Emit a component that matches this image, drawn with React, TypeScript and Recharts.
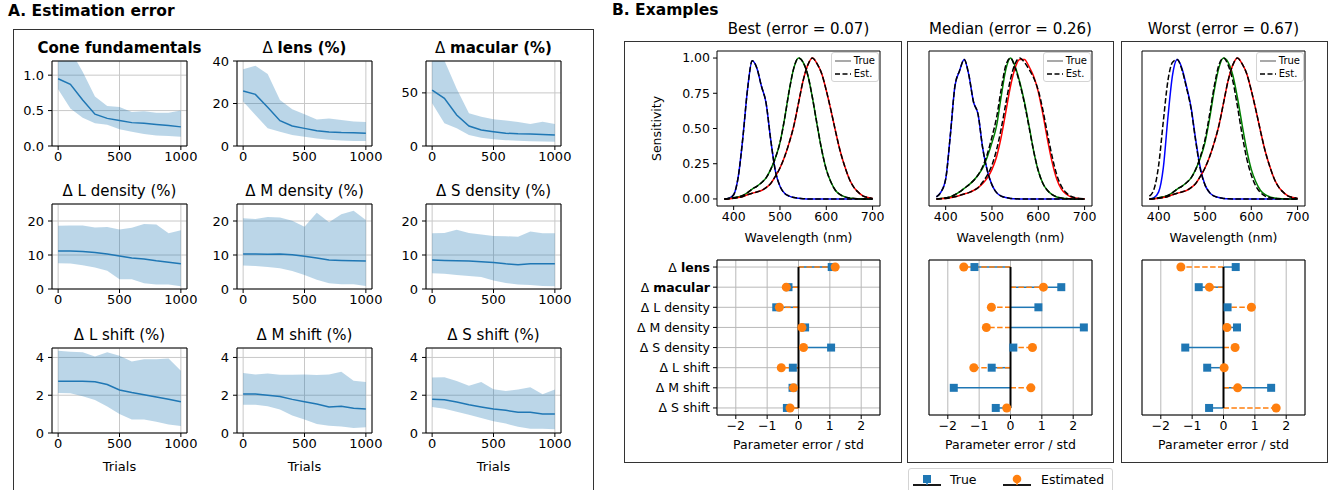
import React from 'react';
import {
  ComposedChart, LineChart, ScatterChart, Line, Area, Scatter,
  XAxis, YAxis, CartesianGrid, ReferenceLine, ReferenceArea, Legend,
} from 'recharts';

const FONT = '"DejaVu Sans", sans-serif';
const C0 = '#1f77b4';
const C1 = '#ff7f0e';

// ---------- Panel A: estimation error vs. number of trials ----------
const trials = [0, 100, 200, 300, 400, 500, 600, 700, 800, 900, 1000];

const coneMean = [0.95, 0.87, 0.65, 0.45, 0.39, 0.36, 0.33, 0.32, 0.305, 0.29, 0.27];
const coneLo = [0.80, 0.53, 0.40, 0.32, 0.30, 0.235, 0.20, 0.17, 0.15, 0.14, 0.13];
const coneHi = [1.45, 1.35, 1.05, 0.70, 0.565, 0.55, 0.48, 0.49, 0.47, 0.47, 0.50];

const lensMean = [25.9, 24.3, 18.2, 11.9, 9.4, 8.3, 7.2, 6.6, 6.3, 6.2, 6.0];
const lensLo = [20.9, 14.6, 8.3, 6.7, 5.2, 4.4, 3.5, 3.0, 2.6, 2.4, 2.3];
const lensHi = [36.1, 37.8, 33.9, 21.6, 17.3, 14.9, 12.5, 13.0, 12.2, 11.5, 11.3];

const macMean = [52.7, 44.9, 29.2, 18.8, 15.0, 13.5, 12.0, 11.5, 11.3, 10.8, 10.4];
const macLo = [40.2, 21.3, 16.6, 10.4, 7.8, 6.3, 5.5, 5.0, 4.5, 4.2, 4.0];
const macHi = [95, 80.5, 54, 30.8, 27.6, 25.1, 24, 22.5, 20.7, 22.9, 20.7];

const lDensMean = [11.2, 11.2, 11.0, 10.7, 10.3, 9.7, 9.1, 8.8, 8.3, 7.9, 7.4];
const lDensLo = [7.6, 7.5, 7.0, 6.3, 5.4, 2.9, 2.9, 1.7, 1.3, 1.3, 0.8];
const lDensHi = [18.6, 18.7, 18.7, 18.1, 18.2, 17.5, 18.0, 19.1, 19.0, 16.4, 17.3];

const mDensMean = [10.3, 10.3, 10.2, 10.3, 10.1, 9.6, 9.1, 8.5, 8.4, 8.3, 8.2];
const mDensLo = [6.9, 6.8, 6.5, 6.1, 5.3, 4.1, 2.7, 1.7, 1.4, 1.4, 0.9];
const mDensHi = [20.8, 20.6, 21.2, 21.0, 20.1, 18.3, 22.4, 19.6, 22.0, 23.0, 20.3];

const sDensMean = [8.5, 8.4, 8.3, 8.2, 8.0, 7.8, 7.4, 7.1, 7.4, 7.4, 7.4];
const sDensLo = [4.6, 4.5, 4.1, 3.8, 3.5, 2.5, 1.8, 1.3, 1.2, 0.9, 0.8];
const sDensHi = [16.4, 16.5, 17.4, 16.5, 16.0, 15.6, 15.5, 15.4, 16.9, 16.4, 16.4];

const lShiftMean = [2.74, 2.74, 2.74, 2.71, 2.57, 2.28, 2.14, 2.02, 1.91, 1.79, 1.66];
const lShiftLo = [2.12, 2.10, 1.95, 1.75, 1.40, 1.00, 0.72, 0.72, 0.60, 0.45, 0.37];
const lShiftHi = [4.35, 4.30, 4.27, 4.05, 4.27, 4.09, 3.79, 3.91, 3.91, 3.95, 3.29];

const mShiftMean = [2.07, 2.06, 2.00, 1.93, 1.78, 1.66, 1.53, 1.38, 1.42, 1.31, 1.27];
const mShiftLo = [1.50, 1.50, 1.42, 1.25, 0.92, 0.72, 0.48, 0.38, 0.35, 0.26, 0.30];
const mShiftHi = [3.17, 3.10, 3.15, 3.08, 3.08, 3.10, 3.07, 3.10, 3.24, 2.76, 2.70];

const sShiftMean = [1.79, 1.76, 1.64, 1.50, 1.38, 1.27, 1.20, 1.10, 1.10, 1.01, 1.00];
const sShiftLo = [1.37, 1.28, 1.12, 0.97, 0.80, 0.62, 0.50, 0.33, 0.23, 0.22, 0.20];
const sShiftHi = [2.94, 2.95, 2.75, 2.50, 2.70, 2.32, 2.23, 2.30, 2.42, 2.05, 2.30];

// ---------- Panel B: cone fundamentals (380..700 nm) ----------
const wavelengths = [380, 390, 400, 410, 420, 430, 440, 450, 460, 470, 480, 490, 500, 510, 520, 530,
  540, 550, 560, 570, 580, 590, 600, 610, 620, 630, 640, 650, 660, 670, 680, 690, 700];

const bestS = [0, 0.005, 0.03, 0.16, 0.44, 0.78, 0.98, 0.93, 0.80, 0.68, 0.42, 0.20, 0.09, 0.04, 0.02, 0.01,
  0.005, 0.002, 0, 0, 0, 0, 0, 0, 0, 0, 0, 0, 0, 0, 0, 0, 0];
const bestM = [0, 0.003, 0.008, 0.015, 0.025, 0.045, 0.07, 0.09, 0.115, 0.15, 0.21, 0.29, 0.40, 0.57, 0.77, 0.93,
  1.0, 0.97, 0.88, 0.72, 0.53, 0.35, 0.21, 0.12, 0.06, 0.03, 0.015, 0.007, 0.003, 0.001, 0, 0, 0];
const bestL = [0, 0.002, 0.005, 0.01, 0.018, 0.03, 0.04, 0.05, 0.06, 0.08, 0.11, 0.16, 0.22, 0.30, 0.40, 0.52,
  0.68, 0.84, 0.95, 1.0, 0.96, 0.89, 0.77, 0.63, 0.48, 0.34, 0.23, 0.14, 0.08, 0.045, 0.02, 0.01, 0.004];
// best estimate is indistinguishable from the truth
const bestSEst = bestS;
const bestMEst = bestM;
const bestLEst = bestL;

const medS = [0.015, 0.05, 0.14, 0.45, 0.80, 0.91, 0.99, 0.88, 0.69, 0.60, 0.36, 0.20, 0.10, 0.045, 0.02, 0.01,
  0.004, 0.001, 0, 0, 0, 0, 0, 0, 0, 0, 0, 0, 0, 0, 0, 0, 0];
const medM = [0, 0.003, 0.008, 0.015, 0.03, 0.05, 0.075, 0.10, 0.13, 0.17, 0.22, 0.30, 0.40, 0.52, 0.73, 0.92,
  1.0, 0.94, 0.83, 0.69, 0.52, 0.34, 0.20, 0.11, 0.06, 0.03, 0.014, 0.006, 0.003, 0.001, 0, 0, 0];
const medL = [0, 0.002, 0.004, 0.008, 0.015, 0.025, 0.035, 0.045, 0.06, 0.08, 0.11, 0.15, 0.21, 0.30, 0.44, 0.62,
  0.80, 0.93, 0.99, 0.99, 0.94, 0.87, 0.76, 0.60, 0.42, 0.26, 0.14, 0.07, 0.035, 0.015, 0.006, 0.002, 0.001];
const medSEst = medS;
const medMEst = [0, 0.003, 0.008, 0.015, 0.03, 0.05, 0.075, 0.10, 0.13, 0.17, 0.23, 0.32, 0.44, 0.58, 0.78, 0.95,
  1.0, 0.93, 0.82, 0.68, 0.51, 0.34, 0.20, 0.11, 0.06, 0.03, 0.014, 0.006, 0.003, 0.001, 0, 0, 0];
const medLEst = [0, 0.002, 0.004, 0.008, 0.015, 0.025, 0.035, 0.045, 0.06, 0.08, 0.12, 0.17, 0.24, 0.35, 0.50, 0.68,
  0.85, 0.96, 1.0, 0.97, 0.92, 0.86, 0.77, 0.63, 0.46, 0.30, 0.17, 0.09, 0.045, 0.02, 0.008, 0.003, 0.001];

const worstS = [0, 0.01, 0.05, 0.22, 0.58, 0.88, 0.99, 0.93, 0.80, 0.65, 0.42, 0.22, 0.10, 0.045, 0.02, 0.01,
  0.004, 0.001, 0, 0, 0, 0, 0, 0, 0, 0, 0, 0, 0, 0, 0, 0, 0];
const worstM = [0, 0.003, 0.008, 0.015, 0.025, 0.045, 0.07, 0.09, 0.115, 0.15, 0.21, 0.29, 0.40, 0.57, 0.77, 0.93,
  1.0, 0.97, 0.88, 0.72, 0.53, 0.35, 0.21, 0.12, 0.06, 0.03, 0.015, 0.007, 0.003, 0.001, 0, 0, 0];
const worstL = bestL;
const worstSEst = [0.02, 0.07, 0.24, 0.55, 0.84, 0.97, 0.99, 0.92, 0.79, 0.64, 0.41, 0.21, 0.10, 0.045, 0.02, 0.01,
  0.004, 0.001, 0, 0, 0, 0, 0, 0, 0, 0, 0, 0, 0, 0, 0, 0, 0];
const worstMEst = [0, 0.003, 0.008, 0.015, 0.025, 0.045, 0.07, 0.09, 0.115, 0.15, 0.21, 0.30, 0.42, 0.60, 0.80, 0.95,
  1.0, 0.95, 0.84, 0.66, 0.46, 0.29, 0.17, 0.09, 0.045, 0.02, 0.01, 0.005, 0.002, 0.001, 0, 0, 0];
const worstLEst = bestL;

// ---------- Panel B: parameter errors (in std units) ----------
const params = ['lens', 'macular', 'L density', 'M density', 'S density', 'L shift', 'M shift', 'S shift'];
const boldParams = ['lens', 'macular'];

const bestTrue = [1.06, -0.32, -0.71, 0.21, 1.04, -0.18, -0.19, -0.37];
const bestEst = [1.17, -0.39, -0.61, 0.11, 0.16, -0.55, -0.16, -0.27];
const medTrue = [-1.15, 1.62, 0.89, 2.34, 0.09, -0.60, -1.81, -0.47];
const medEstV = [-1.49, 1.05, -0.61, -0.77, 0.70, -1.17, 0.65, -0.12];
const worstTrue = [0.39, -0.79, 0.13, 0.43, -1.22, -0.52, 1.52, -0.46];
const worstEstV = [-1.36, -0.45, 0.89, 0.11, 0.37, 0.02, 0.45, 1.68];

const examples = [
  { title: 'Best (error = 0.07)', s: bestS, m: bestM, l: bestL, sE: bestSEst, mE: bestMEst, lE: bestLEst, tv: bestTrue, ev: bestEst },
  { title: 'Median (error = 0.26)', s: medS, m: medM, l: medL, sE: medSEst, mE: medMEst, lE: medLEst, tv: medTrue, ev: medEstV },
  { title: 'Worst (error = 0.67)', s: worstS, m: worstM, l: worstL, sE: worstSEst, mE: worstMEst, lE: worstLEst, tv: worstTrue, ev: worstEstV },
];

const errorSpecs = [
  { title: 'Cone fundamentals', delta: false, bold: true, mean: coneMean, lo: coneLo, hi: coneHi, yMax: 1.2, ticks: [0, 0.5, 1.0], dec: 1 },
  { title: 'lens (%)', delta: true, bold: true, mean: lensMean, lo: lensLo, hi: lensHi, yMax: 40, ticks: [0, 20, 40], dec: 0 },
  { title: 'macular (%)', delta: true, bold: true, mean: macMean, lo: macLo, hi: macHi, yMax: 80, ticks: [0, 50], dec: 0 },
  { title: 'L density (%)', delta: true, bold: false, mean: lDensMean, lo: lDensLo, hi: lDensHi, yMax: 25, ticks: [0, 10, 20], dec: 0 },
  { title: 'M density (%)', delta: true, bold: false, mean: mDensMean, lo: mDensLo, hi: mDensHi, yMax: 25, ticks: [0, 10, 20], dec: 0 },
  { title: 'S density (%)', delta: true, bold: false, mean: sDensMean, lo: sDensLo, hi: sDensHi, yMax: 25, ticks: [0, 10, 20], dec: 0 },
  { title: 'L shift (%)', delta: true, bold: false, mean: lShiftMean, lo: lShiftLo, hi: lShiftHi, yMax: 4.5, ticks: [0, 2, 4], dec: 0 },
  { title: 'M shift (%)', delta: true, bold: false, mean: mShiftMean, lo: mShiftLo, hi: mShiftHi, yMax: 4.5, ticks: [0, 2, 4], dec: 0 },
  { title: 'S shift (%)', delta: true, bold: false, mean: sShiftMean, lo: sShiftLo, hi: sShiftHi, yMax: 4.5, ticks: [0, 2, 4], dec: 0 },
];

// layout (page pixels of each plot area)
const A_COLS = [52, 237, 426];
const A_ROWS = [61, 204, 348];
const A_W = 135;
const A_H = 85;
const B_COLS = [717, 929, 1142];
const B_W = 163;
const B_H = 155;
const SENS_TOP = 51;
const DOT_TOP = 260;

const tickA = { fontSize: 13, fill: '#000', fontFamily: FONT };
const tickB = { fontSize: 12.5, fill: '#000', fontFamily: FONT };
const minus = (v: number) => (v < 0 ? `\u2212${-v}` : `${v}`);

const ErrorPanel = ({ spec, x0, y0, last }: any) => {
  const L = 40, R = 22, T = 10, B = last ? 40 : 22;
  const data = trials.map((t, i) => ({ t, mean: spec.mean[i], band: [spec.lo[i], spec.hi[i]] }));
  return (
    <>
      <div style={{ position: 'absolute', left: x0 - 20, width: A_W + 40, top: y0 - 22, textAlign: 'center', fontSize: 15, lineHeight: '18px', whiteSpace: 'nowrap' }}>
        {spec.delta && <span>Δ </span>}
        <span style={{ fontWeight: spec.bold ? 'bold' : 'normal' }}>{spec.title}</span>
      </div>
      <div style={{ position: 'absolute', left: x0 - L, top: y0 - T }}>
        <ComposedChart width={A_W + L + R} height={A_H + T + B} data={data} margin={{ top: T, right: R, bottom: 0, left: 0 }}>
          <CartesianGrid stroke="#c8c8c8" />
          <XAxis dataKey="t" type="number" domain={[-50, 1050]} allowDataOverflow ticks={[0, 500, 1000]} interval={0}
            axisLine={false} stroke="#000" tickSize={4} tickMargin={2} tick={tickA} height={B}
            label={last ? { value: 'Trials', position: 'insideBottom', offset: 2, fontSize: 13, fill: '#000', fontFamily: FONT } : undefined} />
          <YAxis type="number" domain={[0, spec.yMax]} allowDataOverflow ticks={spec.ticks} width={L} interval={0}
            axisLine={false} stroke="#000" tickSize={4} tickMargin={4} tick={tickA}
            tickFormatter={(v: number) => v.toFixed(spec.dec)} />
          <Area type="linear" dataKey="band" stroke="none" fill={C0} fillOpacity={0.3} isAnimationActive={false} activeDot={false} />
          <Line type="linear" dataKey="mean" stroke={C0} strokeWidth={1.5} dot={false} activeDot={false} isAnimationActive={false} />
          <ReferenceArea x1={-50} x2={1050} y1={0} y2={spec.yMax} fill="none" stroke="#000" strokeWidth={1} />
        </ComposedChart>
      </div>
    </>
  );
};

const SensLegend = () => (
  <div style={{ border: '1px solid #d4d4d4', borderRadius: 3, background: 'rgba(255,255,255,0.85)', padding: '1px 3px', fontFamily: FONT, fontSize: 10, lineHeight: '13px', color: '#000' }}>
    <div style={{ display: 'flex', alignItems: 'center' }}>
      <svg width={16} height={6}><line x1={0} y1={3} x2={16} y2={3} stroke="#707070" strokeWidth={1.2} /></svg>
      <span style={{ marginLeft: 3 }}>True</span>
    </div>
    <div style={{ display: 'flex', alignItems: 'center' }}>
      <svg width={16} height={6}><line x1={0} y1={3} x2={16} y2={3} stroke="#000" strokeWidth={1.5} strokeDasharray="5 2.5" /></svg>
      <span style={{ marginLeft: 3 }}>Est.</span>
    </div>
  </div>
);

const SensPanel = ({ ex, x0, first }: any) => {
  const L = first ? 85 : 12, R = 14, T = 8, B = 40;
  const data = wavelengths.map((w, i) => ({ w, sT: ex.s[i], mT: ex.m[i], lT: ex.l[i], sE: ex.sE[i], mE: ex.mE[i], lE: ex.lE[i] }));
  const dash = '5.5 2.4';
  return (
    <div style={{ position: 'absolute', left: x0 - L, top: SENS_TOP - T }}>
      <LineChart width={B_W + L + R} height={B_H + T + B} data={data} margin={{ top: T, right: R, bottom: 0, left: 0 }}>
        <XAxis dataKey="w" type="number" domain={[364, 716]} allowDataOverflow ticks={[400, 500, 600, 700]} interval={0}
          axisLine={false} stroke="#000" tickSize={4} tickMargin={2} tick={tickB} height={B}
          label={{ value: 'Wavelength (nm)', position: 'insideBottom', offset: 4, fontSize: 12.5, fill: '#000', fontFamily: FONT }} />
        <YAxis type="number" domain={[-0.05, 1.05]} allowDataOverflow ticks={[0, 0.25, 0.5, 0.75, 1]} width={L} interval={0}
          axisLine={false} stroke="#000" tickSize={4} tickMargin={3} tick={first ? tickB : false}
          tickFormatter={(v: number) => v.toFixed(2)}
          label={first ? { value: 'Sensitivity', angle: -90, position: 'insideLeft', offset: 25, fontSize: 12.5, fill: '#000', fontFamily: FONT, style: { textAnchor: 'middle' } } : undefined} />
        <Line type="monotone" dataKey="sT" stroke="#0000ff" strokeWidth={1.5} dot={false} activeDot={false} isAnimationActive={false} />
        <Line type="monotone" dataKey="mT" stroke="#008000" strokeWidth={1.5} dot={false} activeDot={false} isAnimationActive={false} />
        <Line type="monotone" dataKey="lT" stroke="#ff0000" strokeWidth={1.5} dot={false} activeDot={false} isAnimationActive={false} />
        <Line type="monotone" dataKey="sE" stroke="#000" strokeWidth={1.5} strokeDasharray={dash} dot={false} activeDot={false} isAnimationActive={false} />
        <Line type="monotone" dataKey="mE" stroke="#000" strokeWidth={1.5} strokeDasharray={dash} dot={false} activeDot={false} isAnimationActive={false} />
        <Line type="monotone" dataKey="lE" stroke="#000" strokeWidth={1.5} strokeDasharray={dash} dot={false} activeDot={false} isAnimationActive={false} />
        <ReferenceArea x1={364} x2={716} y1={-0.05} y2={1.05} fill="none" stroke="#000" strokeWidth={1} />
        <Legend layout="horizontal" verticalAlign="middle" align="center" content={<SensLegend />}
          wrapperStyle={{ top: T + 1, right: R + 1, width: 'auto', height: 'auto' }} />
      </LineChart>
    </div>
  );
};

const ParamTick = ({ x, y, payload }: any) => {
  const name = params[payload.value];
  return (
    <text x={x} y={y} dy="0.36em" textAnchor="end" fontSize={12.5} fontFamily={FONT} fill="#000">
      <tspan>Δ </tspan>
      <tspan fontWeight={boldParams.includes(name) ? 'bold' : 'normal'}>{name}</tspan>
    </text>
  );
};

const DotPanel = ({ ex, x0, first }: any) => {
  const L = first ? 95 : 12, R = 14, T = 6, B = 40;
  const rows = params.map((_, i) => i);
  const trueData = ex.tv.map((v: number, i: number) => ({ x: v, y: i }));
  const estData = ex.ev.map((v: number, i: number) => ({ x: v, y: i }));
  return (
    <div style={{ position: 'absolute', left: x0 - L, top: DOT_TOP - T }}>
      <ScatterChart width={B_W + L + R} height={B_H + T + B} margin={{ top: T, right: R, bottom: 0, left: 0 }}>
        <CartesianGrid stroke="#b8b8b8" />
        <XAxis dataKey="x" type="number" domain={[-2.6, 2.6]} allowDataOverflow ticks={[-2, -1, 0, 1, 2]} interval={0}
          axisLine={false} stroke="#000" tickSize={4} tickMargin={2} tick={tickB} height={B} tickFormatter={minus}
          label={{ value: 'Parameter error / std', position: 'insideBottom', offset: 6, fontSize: 12.5, fill: '#000', fontFamily: FONT }} />
        <YAxis dataKey="y" type="number" domain={[-0.35, 7.35]} allowDataOverflow reversed ticks={rows} width={L} interval={0}
          axisLine={false} stroke="#000" tickSize={4} tickMargin={3} tick={first ? <ParamTick /> : false} />
        {ex.tv.map((v: number, i: number) => (
          <ReferenceLine key={`t${i}`} segment={[{ x: 0, y: i }, { x: v, y: i }]} stroke={C0} strokeWidth={1.5} />
        ))}
        {ex.ev.map((v: number, i: number) => (
          <ReferenceLine key={`e${i}`} segment={[{ x: 0, y: i }, { x: v, y: i }]} stroke={C1} strokeWidth={1.5} strokeDasharray="5.5 2.4" />
        ))}
        <ReferenceLine segment={[{ x: 0, y: 0 }, { x: 0, y: 7 }]} stroke="#000" strokeWidth={2} />
        <Scatter data={trueData} shape="square" fill={C0} isAnimationActive={false} />
        <Scatter data={estData} shape="circle" fill={C1} isAnimationActive={false} />
        <ReferenceArea x1={-2.6} x2={2.6} y1={-0.35} y2={7.35} fill="none" stroke="#000" strokeWidth={1} />
      </ScatterChart>
    </div>
  );
};

const box = (l: number, t: number, r: number, b: number, extra: any = {}) => ({
  position: 'absolute' as const, left: l, top: t, width: r - l + 1, height: b - t + 1,
  border: '1px solid #333', boxSizing: 'border-box' as const, ...extra,
});

export default function App() {
  return (
    <div style={{ position: 'absolute', left: 0, top: 0, width: 1333, height: 490, overflow: 'hidden', background: '#fff', fontFamily: FONT, color: '#000' }}>
      <div style={{ position: 'absolute', left: 8, top: 2, fontSize: 15.5, fontWeight: 'bold', lineHeight: '19px' }}>A. Estimation error</div>
      <div style={box(13, 29, 593, 520)} />
      {errorSpecs.map((spec, k) => (
        <ErrorPanel key={k} spec={spec} x0={A_COLS[k % 3]} y0={A_ROWS[Math.floor(k / 3)]} last={k >= 6} />
      ))}

      <div style={{ position: 'absolute', left: 612, top: 1, fontSize: 15.5, fontWeight: 'bold', lineHeight: '19px' }}>B. Examples</div>
      <div style={box(624, 41, 901, 462)} />
      <div style={box(907, 41, 1113, 462)} />
      <div style={box(1121, 41, 1327, 462)} />
      {examples.map((ex, k) => (
        <React.Fragment key={k}>
          <div style={{ position: 'absolute', left: B_COLS[k] - 30, width: B_W + 60, top: 20, textAlign: 'center', fontSize: 15, lineHeight: '19px', whiteSpace: 'nowrap' }}>{ex.title}</div>
          <SensPanel ex={ex} x0={B_COLS[k]} first={k === 0} />
          <DotPanel ex={ex} x0={B_COLS[k]} first={k === 0} />
        </React.Fragment>
      ))}

      <div style={{ ...box(908, 468, 1112, 500), border: '1px solid #d4d4d4', borderRadius: 3, fontSize: 12.5 }}>
        <svg style={{ position: 'absolute', left: 4, top: 3 }} width={28} height={16}>
          <line x1={0} y1={13} x2={28} y2={13} stroke="#000" strokeWidth={1.8} />
          <line x1={14} y1={13} x2={14} y2={8} stroke={C0} strokeWidth={1.5} />
          <rect x={10} y={3} width={8} height={8} fill={C0} />
        </svg>
        <span style={{ position: 'absolute', left: 41, top: 3 }}>True</span>
        <svg style={{ position: 'absolute', left: 94, top: 3 }} width={28} height={16}>
          <line x1={0} y1={13} x2={28} y2={13} stroke="#000" strokeWidth={1.8} />
          <line x1={14} y1={13} x2={14} y2={8} stroke={C1} strokeWidth={1.5} />
          <circle cx={14} cy={7} r={4.3} fill={C1} />
        </svg>
        <span style={{ position: 'absolute', left: 132, top: 3 }}>Estimated</span>
      </div>
    </div>
  );
}
